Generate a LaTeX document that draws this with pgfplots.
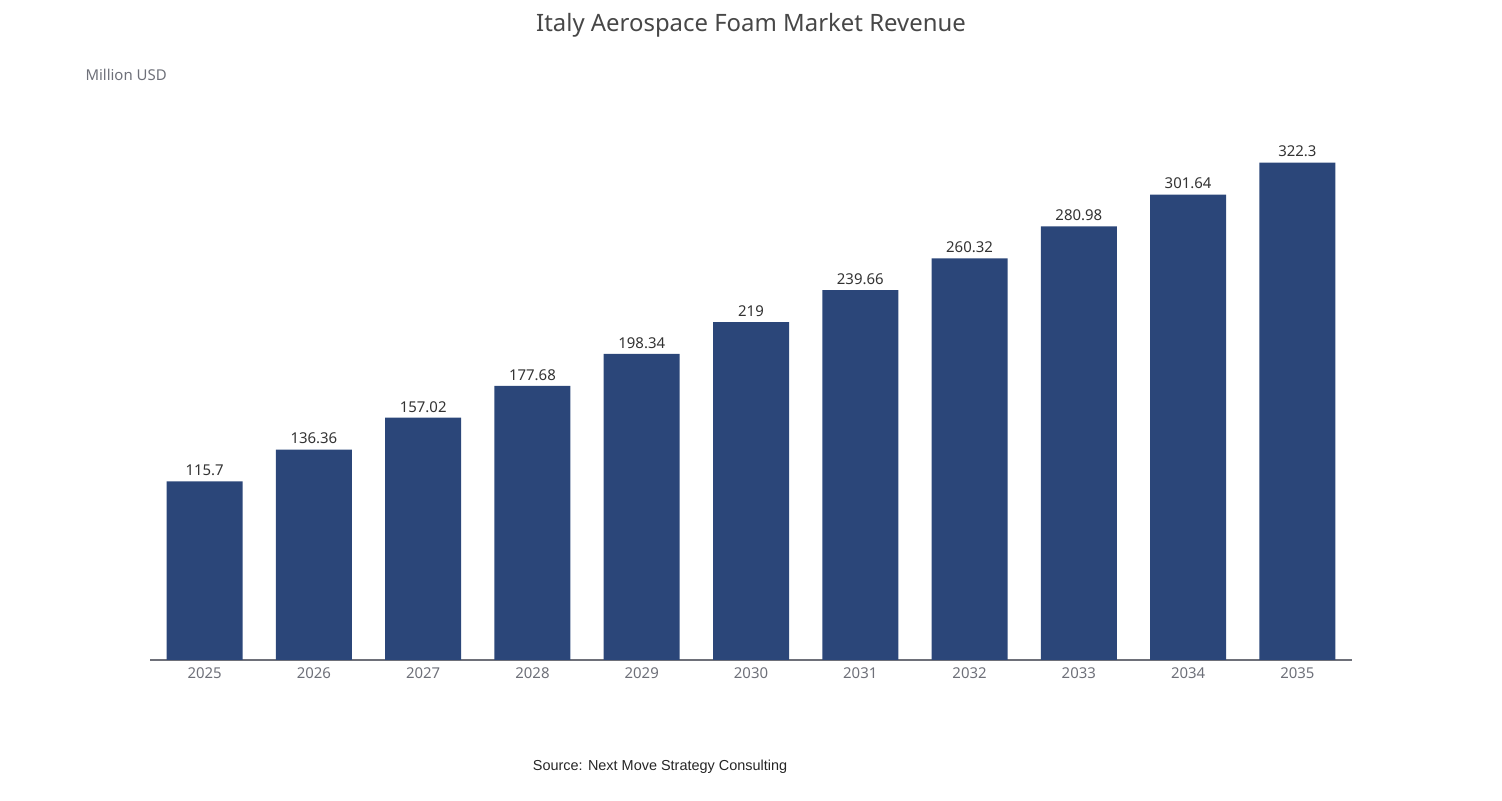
\documentclass[border=0pt]{standalone}
\usepackage{pgfplots}
\pgfplotsset{compat=1.18}
\usepackage{fontspec}
\setmainfont{Noto Sans}
\newfontfamily\arial{Liberation Sans}
\definecolor{bar}{HTML}{2B4679}
\definecolor{gridc}{HTML}{E0E6F1}
\definecolor{tickc}{HTML}{6E7079}
\begin{document}
\begin{tikzpicture}[x=1bp,y=1bp]
\path[use as bounding box] (0,0) rectangle (1502,800);
\begin{axis}[at={(150bp,140bp)},anchor=south west,scale only axis,
 width=1202bp,height=540bp,
 xmin=-0.5,xmax=10.5,ymin=0,ymax=350,
 ytick={0,50,...,350},ymajorgrids,grid style={gridc,line width=1bp},
 axis x line*=bottom, axis y line=none,
 x axis line style={tickc,line width=1.2bp,-},
 xtick={0,...,10},xticklabels={2025,2026,2027,2028,2029,2030,2031,2032,2033,2034,2035},
 major x tick style={draw=none},
 extra x ticks={-0.5,0.5,...,10.5},extra x tick labels={},
 extra x tick style={tick style={tickc,line width=1.2bp},major tick length=6bp,tick align=outside,grid=none},
 ticklabel style={font=\fontsize{15}{18}\selectfont,text=tickc},
 yticklabel style={xshift=-5bp},
 xticklabel style={yshift=-4bp},
 /pgf/number format/assume math mode=true,
 ymajorticks=true, yticklabel pos=left,
 y tick style={draw=none},
 nodes near coords,
 nodes near coords style={font=\fontsize{15}{18}\selectfont,text=black!80,yshift=2bp},
 clip=false]
\addplot[ybar,bar width=76bp,fill=bar,draw=none] coordinates {
(0,115.7)(1,136.36)(2,157.02)(3,177.68)(4,198.34)(5,219)(6,239.66)(7,260.32)(8,280.98)(9,301.64)(10,322.3)};
\end{axis}
\node[text=tickc,font=\fontsize{15}{18}\selectfont,anchor=west] at (82,725) {Million USD};
\node[text=black!72,font=\bfseries\fontsize{24}{28}\selectfont] at (751,775) {Italy Aerospace Foam Market Revenue};
\node[font=\arial\fontsize{14.5}{17}\selectfont,text=black!85] at (660,33) {Source: Next Move Strategy Consulting};
\end{tikzpicture}
\end{document}
